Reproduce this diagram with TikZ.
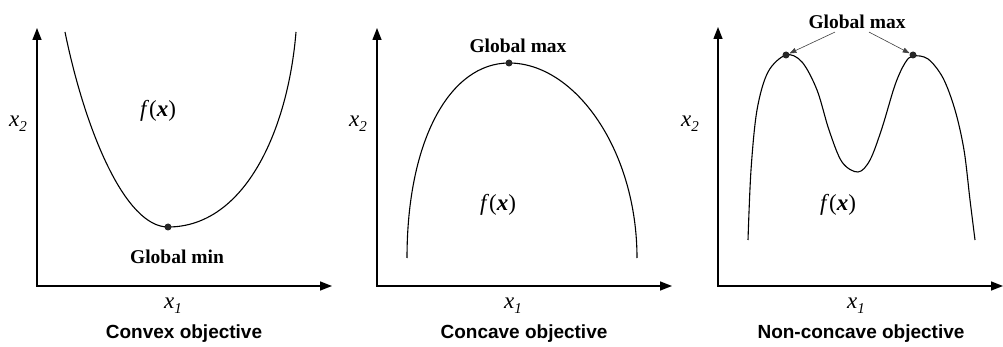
\documentclass[tikz,border=0pt]{standalone}
\usepackage{fontspec}
\setmainfont{Liberation Serif}
\setsansfont{Liberation Sans}
\newfontfamily\tnr{Liberation Serif}
\usetikzlibrary{arrows.meta,positioning}
\newcommand{\xlab}[1]{\textit{x}\raisebox{-0.45ex}{\fontsize{15}{15}\selectfont\textit{#1}}}
\newcommand{\fxlab}{\textit{f}(\textbf{\textit{x}})}

\begin{document}
\begin{tikzpicture}[x=1pt,y=-1pt,
  axis/.style={{Triangle[length=12pt,width=9pt]}-{Triangle[length=12pt,width=9pt]},line width=1.4pt},
  curve/.style={line width=1.1pt},
  pt/.style={circle,fill=black!85,inner sep=0pt,minimum size=7pt},
  lbl/.style={font=\tnr\fontsize{23}{24}\selectfont,inner sep=0pt},
  glob/.style={font=\tnr\fontsize{19.5}{22}\selectfont\bfseries,inner sep=0pt},
  title/.style={font=\fontsize{19}{22}\selectfont\sffamily\bfseries,inner sep=0pt},
  ptr/.style={-{Triangle[length=7pt,width=5pt]},draw=black!75,line width=0.6pt}
]
\useasboundingbox (0,0) rectangle (1003,347);

\coordinate (y1) at (37,28);  \coordinate (o1) at (37,286);  \coordinate (x1) at (332,286);
\coordinate (y2) at (377,28); \coordinate (o2) at (377,286); \coordinate (x2) at (672,286);
\coordinate (y3) at (718,27); \coordinate (o3) at (718,286); \coordinate (x3) at (1003,286);
\draw[axis] (y1) -- (o1) -- (x1);
\draw[axis] (y2) -- (o2) -- (x2);
\draw[axis] (y3) -- (o3) -- (x3);

\draw[curve] (65,32) .. controls (85,130) and (125,227) .. (168,227)
  .. controls (245,227) and (288,130) .. (296,32);
\draw[curve] (407,258) .. controls (407,140) and (450,63) .. (509,63)
  .. controls (575,63) and (637,150) .. (637,258);
\draw[curve] plot[smooth,tension=0.55] coordinates {(748,240) (751,170) (757,110)
  (768,72) (786,55) (802,62) (817,90) (829,130) (842,162) (858,172) (870,160)
  (882,128) (895,85) (905,63) (913,56) (928,59) (943,78) (955,110) (964,150)
  (970,200) (975,240)};

\node[pt] (min1) at (168,227) {};
\node[pt] (max2) at (509,63) {};
\node[pt] (max3a) at (786,55) {};
\node[pt] (max3b) at (913,55) {};

\node[lbl] (x2a) at (18,124) {\xlab{2}};
\node[lbl] (x2b) at (358,124) {\xlab{2}};
\node[lbl] (x2c) at (690,124) {\xlab{2}};
\node[lbl] (x1a) at (173,306) {\xlab{1}};
\node[lbl] (x1b) at (513,306) {\xlab{1}};
\node[lbl] (x1c) at (856,306) {\xlab{1}};
\node[lbl] (f1) at (158,111) {\fxlab};
\node[lbl] (f2) at (498,205) {\fxlab};
\node[lbl] (f3) at (838,205) {\fxlab};

\node[glob] (gmin) at (177,257) {Global min};
\node[glob] (gmax2) at (518,46) {Global max};
\node[glob] (gmax3) at (857,22) {Global max};
\coordinate[below left=3pt and 22pt of gmax3.south] (g3l);
\coordinate[below right=3pt and 12pt of gmax3.south] (g3r);
\draw[ptr] (g3l) -- (max3a);
\draw[ptr] (g3r) -- (max3b);

\node[title] (t1) at (184,334) {Convex objective};
\node[title] (t2) at (524,334) {Concave objective};
\node[title] (t3) at (861,334) {Non-concave objective};
\end{tikzpicture}
\end{document}
